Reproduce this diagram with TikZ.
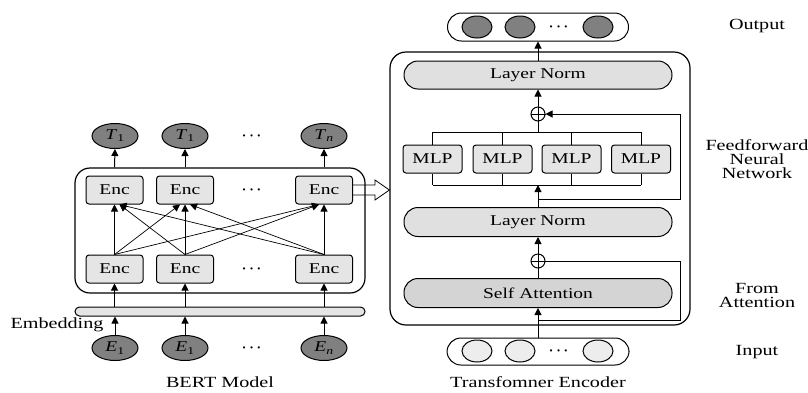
\documentclass[tikz,border=0pt]{standalone}
\usepackage{amsmath, amssymb}
\usepackage{fontspec}
\setmainfont{Liberation Serif}[FakeStretch=1.3]
\usetikzlibrary{arrows.meta,positioning,calc,shapes.geometric}

\begin{document}
\begin{tikzpicture}[
			x=1pt, y=-1pt,
			line width=1pt,
			>={Triangle[length=7pt,width=7pt]},
			every node/.style={inner sep=1pt, font=\fontsize{15}{17}\selectfont},
			encbox/.style={draw, rounded corners=3pt, fill=black!10, minimum width=57pt, minimum height=28pt},
			mlpbox/.style={encbox, minimum width=59pt},
			pill/.style={draw, rounded corners=14pt, fill=black!12, minimum width=268pt, minimum height=28pt},
			token/.style={draw, ellipse, fill=black!50, minimum width=46pt, minimum height=25pt, inner sep=0pt},
			vec/.style={draw, ellipse, minimum width=30pt, minimum height=22pt, inner sep=0pt},
			addop/.style={draw, circle, minimum size=14pt, inner sep=0pt},
			sidelabel/.style={align=center, font=\fontsize{15.5}{14}\selectfont}
		]

		\useasboundingbox (0,0) rectangle (808,392);

		% BERT side
		\node[draw, rounded corners=15pt, minimum width=290pt, minimum height=125pt, line width=1.2pt] (bert) at (220,230.5) {};

		\node[token] (out1) at (115,136) {\textit{T}\textsubscript{1}};
		\node[token] (out2) at (185,136) {\textit{T}\textsubscript{1}};
		\node[token] (out3) at (324,136) {\textit{T}\textsubscript{\textit{n}}};
		\node at (253,136) {$\boldsymbol{\cdots}$};

		\node[encbox] (et1) at (114.5,190) {Enc};
		\node[encbox] (et2) at (185,190) {Enc};
		\node[encbox] (et3) at (324,190) {Enc};
		\node at (253,190) {$\boldsymbol{\cdots}$};

		\node[encbox] (eb1) at (114.5,269) {Enc};
		\node[encbox] (eb2) at (185,269) {Enc};
		\node[encbox] (eb3) at (324,269) {Enc};
		\node at (253,269) {$\boldsymbol{\cdots}$};

		\node[draw, rounded corners=4.5pt, fill=black!10, minimum width=290pt, minimum height=9pt, inner sep=0pt] (emb) at (220,311.5) {};

		\node[token] (in1) at (115,348) {\textit{E}\textsubscript{1}};
		\node[token] (in2) at (185,348) {\textit{E}\textsubscript{1}};
		\node[token] (in3) at (324,348) {\textit{E}\textsubscript{\textit{n}}};
		\node at (253,348) {$\boldsymbol{\cdots}$};

		\foreach \i in {1,2,3} {
			\draw[->] (bert.north -| et\i) -- (out\i.south);
			\draw[->] (eb\i.north) -- (et\i.south);
			\draw[->] (emb.north -| eb\i) -- (eb\i.south);
			\draw[->] (in\i.north) -- (emb.south -| in\i);
		}
		\foreach \i/\j/\dx in {1/2/-5, 1/3/-5, 2/1/5, 2/3/-5, 3/1/5, 3/2/5}
			\draw[->, line width=0.7pt] (eb\i.north) -- ($(et\j.south)+(\dx,0)$);

		\node[sidelabel] at (57,325) {Embedding};
		\node[sidelabel] at (220,382) {BERT Model};

		% Transformer side
		\node[draw, rounded corners=16pt, minimum width=300pt, minimum height=273pt, line width=1.2pt] (trans) at (540,188.5) {};

		\draw[line width=0.8pt] ($(et3.east)+(0,-5)$) -- ++(22,0) -- ++(0,-5) -- (trans.west |- et3.east)
			-- ($(et3.east)+(22,10)$) -- ++(0,-5) -- ($(et3.east)+(0,5)$);

		\node[pill, minimum width=181pt, fill=white] (outp) at (538,27) {};
		\foreach \x/\n in {477/1, 520/2, 598/3}
			\node[vec, fill=black!50] (o\n) at (\x,27) {};
		\node at (560,27) {$\boldsymbol{\cdots}$};

		\node[pill] (ln1) at (538,75) {Layer Norm};
		\node[addop] (add1) at (538,114) {};
		\foreach \x/\n in {432.5/1, 502.5/2, 571.5/3, 641/4}
			\node[mlpbox] (mlp\n) at (\x,159) {MLP};
		\node[pill, minimum height=29pt] (ln2) at (538,222) {Layer Norm};
		\node[addop] (add2) at (538,261) {};
		\node[pill, minimum height=29pt, fill=black!17] (att) at (538,293) {Self Attention};

		\node[pill, minimum width=182pt, minimum height=27pt, fill=white] (inp) at (538,351.5) {};
		\foreach \x/\n in {477/1, 520/2, 598/3}
			\node[vec, fill=black!7] (x\n) at (\x,351) {};
		\node at (560,351) {$\boldsymbol{\cdots}$};

		\coordinate (bustop) at (538,132);
		\coordinate (busbot) at (538,185);
		\coordinate (res1) at (538,199);
		\coordinate (res2) at (538,320);

		\draw (add1.north) -- (add1.south) (add1.west) -- (add1.east);
		\draw (add2.north) -- (add2.south) (add2.west) -- (add2.east);

		\draw (mlp1.north |- bustop) -- (mlp4.north |- bustop);
		\draw (mlp1.south |- busbot) -- (mlp4.south |- busbot);
		\foreach \n in {1,...,4} {
			\draw (mlp\n.north) -- (mlp\n.north |- bustop);
			\draw (mlp\n.south) -- (mlp\n.south |- busbot);
		}

		\draw[->] (ln1.north) -- (outp.south);
		\draw[->] (add1.north) -- (ln1.south);
		\draw (bustop) -- (add1.south);
		\draw[->] (ln2.north) -- (busbot);
		\draw[->] (add2.north) -- (ln2.south);
		\draw (att.north) -- (add2.south);
		\draw[->] (inp.north) -- (att.south);

		\draw[->] (res1) -- ++(142,0) |- (add1.east);
		\draw (res2) -- ++(142,0) |- (add2.east);

		\node[sidelabel] at (538,382) {Transfomner Encoder};

		% layer labels
		\node[sidelabel] at (757,26) {Output};
		\node[sidelabel] at (757,159) {Feedforward\\Neural\\Network};
		\node[sidelabel] at (757,295) {From\\Attention};
		\node[sidelabel] at (757,352) {Input};

	\end{tikzpicture}
\end{document}
